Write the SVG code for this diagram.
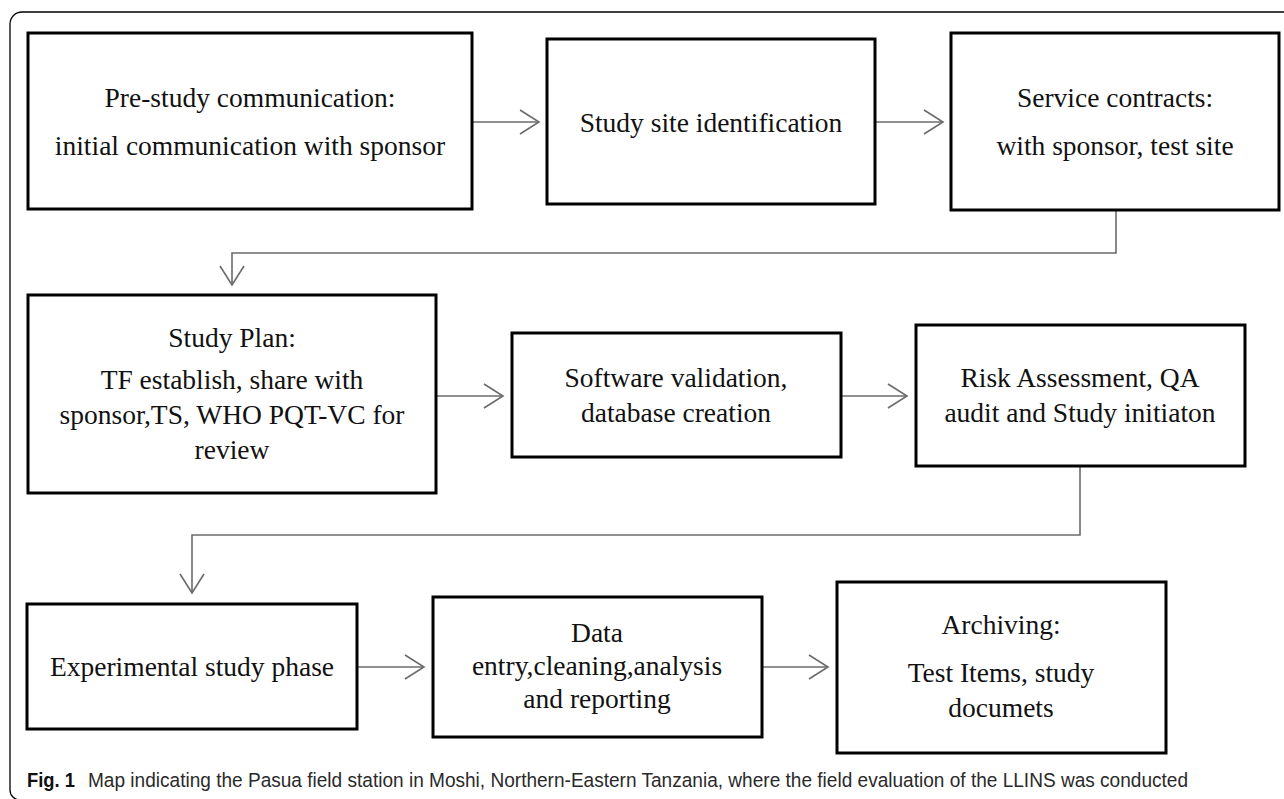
<svg xmlns="http://www.w3.org/2000/svg" width="1284" height="799" viewBox="0 0 1284 799">
<style>
.box{fill:#fff;stroke:#000;stroke-width:3}
.t{font-family:"Liberation Serif","Times New Roman",serif;font-size:27.5px;fill:#111;text-anchor:middle}
.c{fill:none;stroke:#6b6b6b;stroke-width:1.6}
.cap{font-family:"Liberation Sans",Arial,sans-serif;font-size:20.5px;fill:#2a2a2a}
</style>
<defs>
<marker id="ah" markerWidth="22" markerHeight="28" refX="20" refY="14" orient="auto" markerUnits="userSpaceOnUse">
<path d="M1,2 L20,14 L1,26" fill="none" stroke="#6b6b6b" stroke-width="1.6"/>
</marker>
</defs>
<rect width="1284" height="799" fill="#fff"/>
<path d="M1290,12 H22 A12,12 0 0 0 10,24 V790 A10,10 0 0 0 20,800" fill="none" stroke="#000" stroke-width="1.3"/>
<g id="connectors">
<path class="c" d="M472,122 H539" marker-end="url(#ah)"/>
<path class="c" d="M875,122 H943" marker-end="url(#ah)"/>
<path class="c" d="M1116,211 V253 H232 V285" marker-end="url(#ah)"/>
<path class="c" d="M436,396 H503" marker-end="url(#ah)"/>
<path class="c" d="M841,396 H907" marker-end="url(#ah)"/>
<path class="c" d="M1080,466 V535 H192 V593" marker-end="url(#ah)"/>
<path class="c" d="M357,667 H424" marker-end="url(#ah)"/>
<path class="c" d="M762,667 H828" marker-end="url(#ah)"/>
</g>
<g id="n1"><rect class="box" x="28" y="33" width="444" height="176"/>
<text class="t" x="250" y="107">Pre-study communication:</text>
<text class="t" x="250" y="155">initial communication with sponsor</text></g>
<g id="n2"><rect class="box" x="547" y="39" width="328" height="165"/>
<text class="t" x="711" y="132">Study site identification</text></g>
<g id="n3"><rect class="box" x="951" y="33" width="328" height="177"/>
<text class="t" x="1115" y="107">Service contracts:</text>
<text class="t" x="1115" y="155">with sponsor, test site</text></g>
<g id="n4"><rect class="box" x="28" y="295" width="408" height="198"/>
<text class="t" x="232" y="347">Study Plan:</text>
<text class="t" x="232" y="389">TF establish, share with</text>
<text class="t" x="232" y="424">sponsor,TS, WHO PQT-VC for</text>
<text class="t" x="232" y="459">review</text></g>
<g id="n5"><rect class="box" x="512" y="333" width="329" height="124"/>
<text class="t" x="676" y="387">Software validation,</text>
<text class="t" x="676" y="422">database creation</text></g>
<g id="n6"><rect class="box" x="916" y="325" width="329" height="141"/>
<text class="t" x="1080" y="387">Risk Assessment, QA</text>
<text class="t" x="1080" y="422">audit and Study initiaton</text></g>
<g id="n7"><rect class="box" x="27" y="604" width="330" height="125"/>
<text class="t" x="192" y="676">Experimental study phase</text></g>
<g id="n8"><rect class="box" x="433" y="597" width="329" height="140"/>
<text class="t" x="597" y="642">Data</text>
<text class="t" x="597" y="675">entry,cleaning,analysis</text>
<text class="t" x="597" y="708">and reporting</text></g>
<g id="n9"><rect class="box" x="837" y="582" width="329" height="171"/>
<text class="t" x="1001" y="634">Archiving:</text>
<text class="t" x="1001" y="682">Test Items, study</text>
<text class="t" x="1001" y="717">documets</text></g>
<text class="cap" x="27" y="787"><tspan font-weight="bold" fill="#111" textLength="48" lengthAdjust="spacingAndGlyphs">Fig. 1</tspan><tspan x="88" textLength="1100" lengthAdjust="spacingAndGlyphs">Map indicating the Pasua field station in Moshi, Northern-Eastern Tanzania, where the field evaluation of the LLINS was conducted</tspan></text>
</svg>
